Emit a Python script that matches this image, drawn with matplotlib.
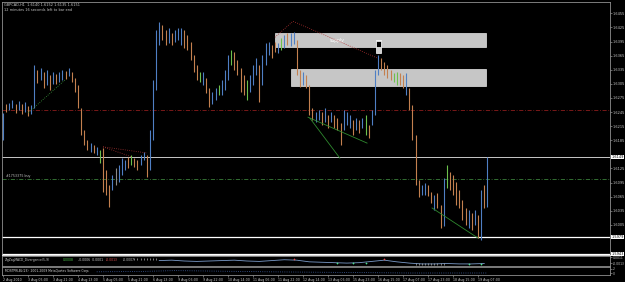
# GBPCAD H1 - MT4 styl grafu se supply zonami
import matplotlib.pyplot as plt
from matplotlib.patches import Rectangle
from matplotlib.transforms import blended_transform_factory

# hodinove bary (po 2 h), high / low
bar_high = [1.6243, 1.6262, 1.6264, 1.6270, 1.6262, 1.6268, 1.6262, 1.6266, 1.6258, 1.6260,
            1.6345, 1.6334, 1.6338, 1.6330, 1.6334, 1.6324, 1.6330, 1.6326, 1.6330, 1.6334,
            1.6332, 1.6338, 1.6330, 1.6317, 1.6302, 1.6253, 1.6207, 1.6185, 1.6179, 1.6175,
            1.6171, 1.6164, 1.6168, 1.6122, 1.6090, 1.6111, 1.6126, 1.6132, 1.6147, 1.6143,
            1.6149, 1.6154, 1.6147, 1.6143, 1.6154, 1.6160, 1.6154, 1.6207, 1.6313, 1.6419,
            1.6436, 1.6430, 1.6419, 1.6424, 1.6413, 1.6419, 1.6424, 1.6424, 1.6419, 1.6409,
            1.6394, 1.6366, 1.6345, 1.6330, 1.6330, 1.6317, 1.6296, 1.6287, 1.6296, 1.6302,
            1.6313, 1.6334, 1.6366, 1.6377, 1.6372, 1.6355, 1.6338, 1.6324, 1.6313, 1.6324,
            1.6345, 1.6360, 1.6345, 1.6366, 1.6392, 1.6394, 1.6387, 1.6394, 1.6392, 1.6402,
            1.6409, 1.6413, 1.6413, 1.6415, 1.6398, 1.6334, 1.6330, 1.6324, 1.6302, 1.6253,
            1.6245, 1.6249, 1.6245, 1.6253, 1.6239, 1.6245, 1.6239, 1.6232, 1.6222, 1.6249,
            1.6245, 1.6239, 1.6228, 1.6232, 1.6228, 1.6232, 1.6239, 1.6217, 1.6249, 1.6334,
            1.6366, 1.6360, 1.6351, 1.6345, 1.6334, 1.6328, 1.6330, 1.6328, 1.6324, 1.6328,
            1.6296, 1.6260, 1.6196, 1.6100, 1.6090, 1.6094, 1.6090, 1.6075, 1.6068, 1.6073,
            1.6047, 1.6105, 1.6132, 1.6117, 1.6111, 1.6096, 1.6079, 1.6058, 1.6041, 1.6036,
            1.6030, 1.6036, 1.6026, 1.6079, 1.6090, 1.6149]
bar_low = [1.6185, 1.6245, 1.6249, 1.6253, 1.6243, 1.6249, 1.6241, 1.6245, 1.6237, 1.6241,
           1.6253, 1.6307, 1.6313, 1.6296, 1.6302, 1.6292, 1.6304, 1.6304, 1.6309, 1.6313,
           1.6315, 1.6321, 1.6309, 1.6287, 1.6253, 1.6196, 1.6175, 1.6164, 1.6160, 1.6158,
           1.6154, 1.6137, 1.6075, 1.6068, 1.6043, 1.6079, 1.6090, 1.6096, 1.6111, 1.6122,
           1.6126, 1.6132, 1.6128, 1.6122, 1.6132, 1.6143, 1.6107, 1.6122, 1.6185, 1.6292,
           1.6387, 1.6398, 1.6387, 1.6392, 1.6387, 1.6394, 1.6398, 1.6387, 1.6381, 1.6377,
           1.6355, 1.6330, 1.6313, 1.6309, 1.6302, 1.6285, 1.6256, 1.6262, 1.6270, 1.6281,
           1.6281, 1.6292, 1.6313, 1.6345, 1.6334, 1.6324, 1.6287, 1.6281, 1.6270, 1.6287,
           1.6302, 1.6324, 1.6266, 1.6302, 1.6345, 1.6366, 1.6360, 1.6372, 1.6370, 1.6377,
           1.6381, 1.6387, 1.6385, 1.6389, 1.6324, 1.6298, 1.6302, 1.6296, 1.6239, 1.6228,
           1.6224, 1.6228, 1.6217, 1.6224, 1.6211, 1.6224, 1.6211, 1.6207, 1.6175, 1.6207,
           1.6217, 1.6211, 1.6196, 1.6207, 1.6200, 1.6211, 1.6196, 1.6190, 1.6217, 1.6239,
           1.6324, 1.6334, 1.6324, 1.6317, 1.6313, 1.6309, 1.6302, 1.6302, 1.6296, 1.6281,
           1.6249, 1.6185, 1.6090, 1.6064, 1.6068, 1.6068, 1.6066, 1.6051, 1.6036, 1.6041,
           1.5998, 1.6002, 1.6083, 1.6079, 1.6068, 1.6047, 1.6041, 1.6015, 1.6005, 1.5998,
           1.5994, 1.6005, 1.5977, 1.5973, 1.6041, 1.6043]
# u = rostouci, d = klesajici, g = zvyrazneny (zeleny), n = sedy
bar_kind = ("uduudududu" "ududududuu" "duddddddud" "ugdddunuuu" "dgdduuduuu"
            "udduduuudd" "dddgudduug" "uuugddddgu" "uuduuuddug" "uduudduddd"
            "uudududddu" "uududugduu" "uddddggddu" "dddduuddud" "dugddddddu"
            "dududu")
kind_color = {'u': '#4f7fc4', 'd': '#c4804f', 'g': '#6cc04c', 'n': '#8a8a8a'}

time_labels = ['2 Aug 2010', '3 Aug 05:00', '3 Aug 21:00', '4 Aug 13:00', '5 Aug 05:00',
               '5 Aug 21:00', '6 Aug 13:00', '9 Aug 06:00', '9 Aug 22:00', '10 Aug 14:00',
               '11 Aug 06:00', '11 Aug 22:00', '12 Aug 14:00', '13 Aug 06:00', '15 Aug 23:00',
               '16 Aug 15:00', '17 Aug 07:00', '17 Aug 23:00', '18 Aug 15:00', '19 Aug 07:00']
price_ticks = [1.6455, 1.6425, 1.6395, 1.6365, 1.6335, 1.6305, 1.6275, 1.6245, 1.6215,
               1.6185, 1.6125, 1.6095, 1.6065, 1.6035, 1.6005]

# objekty v grafu
bid_price = 1.6149
white_levels = [1.5979, 1.5943]
red_level = 1.6249
order_level = 1.6102
supply_zones = [(87.0, 154.6, 1.6384, 1.6414), (92.2, 154.6, 1.6300, 1.6336)]
zz_green_x, zz_green_y = [8, 19.8], [1.6243, 1.6313]
zz_red1_x, zz_red1_y = [32, 46.1], [1.6171, 1.6158]
zz_red2_x, zz_red2_y = [32, 41], [1.6171, 1.6150]
zz_peak_x, zz_peak_y = [87, 92.8, 119.7], [1.6404, 1.6438, 1.6360]
div_lines = [([97.6, 116.5], [1.6234, 1.6179]),
             ([98.2, 107.8], [1.6232, 1.6147]),
             ([137.3, 152.0], [1.6041, 1.5977])]

# indikator (spodni okno)
ind_x = [50, 54, 58, 62, 66, 70, 74, 78, 82, 86, 90, 94, 98, 102, 106, 110, 114,
         118, 122, 126, 130, 134, 138, 142, 146, 150, 154]
ind_y = [0.0000, 0.0001, -0.0001, -0.0002, -0.0001, 0.0000, 0.0001, -0.0001, -0.0002,
         0.0000, 0.0002, 0.0001, -0.0003, -0.0004, -0.0005, -0.0006, -0.0005, -0.0002,
         0.0001, -0.0003, -0.0006, -0.0008, -0.0008, -0.0007, -0.0008, -0.0008, -0.0007]
sig_x = [42, 43, 44, 45, 46, 47, 48, 49, 132, 133, 134, 135, 136, 137, 138, 139, 140, 141]
sig_y = [0.0005] * 8 + [-0.0009] * 10
up_marks_x, up_marks_y = [107, 112, 116, 149, 153], [-0.0005, -0.0006, -0.0005, -0.0008, -0.0008]
dn_marks_x, dn_marks_y = [93, 122], [0.0003, 0.0003]
ind2_x = [30, 45, 55, 65, 75, 85, 100, 115, 130, 145, 155]
ind2_y = [0.8, 0.9, 1.1, 1.0, 0.9, 0.8, 0.7, 0.6, 0.5, 0.5, 0.5]

W, H = 625, 282
fig = plt.figure(figsize=(W / 100, H / 100), dpi=100, facecolor='black')
FS = 2.5


def px_axes(x0, y0, x1, y1):
    a = fig.add_axes([x0 / W, 1 - y1 / H, (x1 - x0) / W, (y1 - y0) / H], facecolor='black')
    a.set_xlim(-0.32, 194.24)
    for s in a.spines.values():
        s.set_color('#909090')
        s.set_linewidth(0.6)
    a.tick_params(colors='#909090', labelcolor='#c8c8c8', labelsize=FS, length=1.2,
                  width=0.5, pad=0.6)
    return a


ax = px_axes(2, 2, 610, 255)
ax1 = px_axes(2, 256, 610, 266)
ax2 = px_axes(2, 267, 610, 275)

# hlavni okno
ax.set_ylim(1.5941, 1.6479)
ax.yaxis.tick_right()
ax.set_yticks(price_ticks)
ax.set_yticklabels([f'{p:.4f}' for p in price_ticks])
ax.set_xticks([])
ax.spines['bottom'].set_color('white')

for x0, x1, lo, hi in supply_zones:
    ax.add_patch(Rectangle((x0, lo), x1 - x0, hi - lo, facecolor='#c6c6c6',
                           edgecolor='#e6e6e6', lw=0.5, zorder=1))
ax.text(104.6, 1.6397, 'supply', color='white', fontsize=3.3, va='center', zorder=4)
ax.add_patch(Rectangle((119.4, 1.6370), 1.6, 0.0028, facecolor='#d0d0d0',
                       edgecolor='white', lw=0.5, zorder=5))
ax.add_patch(Rectangle((119.4, 1.6384), 1.6, 0.0013, facecolor='black',
                       edgecolor='white', lw=0.5, zorder=6))

ax.axhline(red_level, color='#8b1c1c', lw=0.6, ls=(0, (5, 2, 1, 2)), zorder=2)
ax.axhline(order_level, color='#3a7f3a', lw=0.6, ls=(0, (5, 2, 1, 2)), zorder=2)
ax.axhline(bid_price, color='#c8c8c8', lw=0.7, zorder=2)
for lv in white_levels:
    ax.axhline(lv, color='white', lw=0.9, zorder=2)
ax.text(1, order_level + 0.0002, '#1753375 buy', color='#c0c0c0', fontsize=2.3, va='bottom')

cols = [kind_color[k] for k in bar_kind]
ax.vlines(range(len(bar_high)), bar_low, bar_high, colors=cols, lw=0.8, zorder=3)

ax.plot(zz_green_x, zz_green_y, color='#3c9a3c', lw=0.6, ls=':', zorder=4)
ax.plot(zz_red1_x, zz_red1_y, color='#a03030', lw=0.6, ls=':', zorder=4)
ax.plot(zz_red2_x, zz_red2_y, color='#a03030', lw=0.6, ls=':', zorder=4)
ax.plot(zz_peak_x, zz_peak_y, color='#b03030', lw=0.6, ls=':', zorder=4)
for xs, ys in div_lines:
    ax.plot(xs, ys, color='#2f8a2f', lw=0.6, zorder=4)

tr = blended_transform_factory(ax.transAxes, ax.transData)
for lv in [bid_price] + white_levels:
    ax.text(1.002, lv, f'{lv:.4f}', transform=tr, fontsize=FS, color='black', va='center',
            ha='left', bbox=dict(facecolor='white', edgecolor='none', pad=0.2), clip_on=False)

ax.text(0.004, 0.995, 'GBPCAD,H1  1.6140 1.6152 1.6135 1.6151', transform=ax.transAxes,
        color='#c8c8c8', fontsize=FS, va='top')
ax.text(0.004, 0.975, '12 minutes 16 seconds left to bar end', transform=ax.transAxes,
        color='#c8c8c8', fontsize=FS, va='top')

# okno indikatoru 1
ax1.set_ylim(-0.0013, 0.0011)
ax1.yaxis.tick_right()
ax1.set_yticks([0.0008, -0.0006])
ax1.set_yticklabels(['0.0011', '-0.0013'])
ax1.tick_params(axis='y', labelsize=2.2)
ax1.set_xticks([])
ax1.plot(ind_x, ind_y, color='#7a9ac8', lw=0.6)
ax1.plot(sig_x, sig_y, ls='none', marker='|', ms=1.5, mew=0.5, color='#b0b0b0')
ax1.plot(up_marks_x, up_marks_y, ls='none', marker='+', ms=2, mew=0.5, color='#50e090')
ax1.plot(dn_marks_x, dn_marks_y, ls='none', marker='+', ms=2, mew=0.5, color='#e05050')
ax1.text(0.5, 0.00025, 'ZigZagMACD_Divergence(5,9)', color='#c8c8c8', fontsize=2.2, va='center')
ax1.text(19, 0.00025, '0.0008', color='#50d050', fontsize=2.2, va='center')
ax1.text(24, 0.00025, '-0.0006  0.0001', color='#d8d8d8', fontsize=2.2, va='center')
ax1.text(33, 0.00025, '-0.0013', color='#e05050', fontsize=2.2, va='center')
ax1.text(38.5, 0.00025, '-0.0007', color='#c8c8c8', fontsize=2.2, va='center')

# okno indikatoru 2
ax2.set_ylim(0, 2)
ax2.yaxis.tick_right()
ax2.set_yticks([1.6, 0.4])
ax2.set_yticklabels(['2', '0'])
ax2.tick_params(axis='y', labelsize=2.2)
ax2.plot(ind2_x, ind2_y, color='#4060a0', lw=0.6, ls=':')
ax2.text(0.5, 1.1, 'MOSTPRLBL(23)  2001-2009 MetaQuotes Software Corp.', color='#d8d8d8',
         fontsize=2.2, va='center')
ax2.set_xticks([8 * i for i in range(len(time_labels))])
ax2.set_xticklabels(time_labels)
ax2.tick_params(axis='x', labelsize=2.3)
for lab in ax2.get_xticklabels():
    lab.set_horizontalalignment('left')

fig.savefig('out.png', dpi=100, facecolor='black')
